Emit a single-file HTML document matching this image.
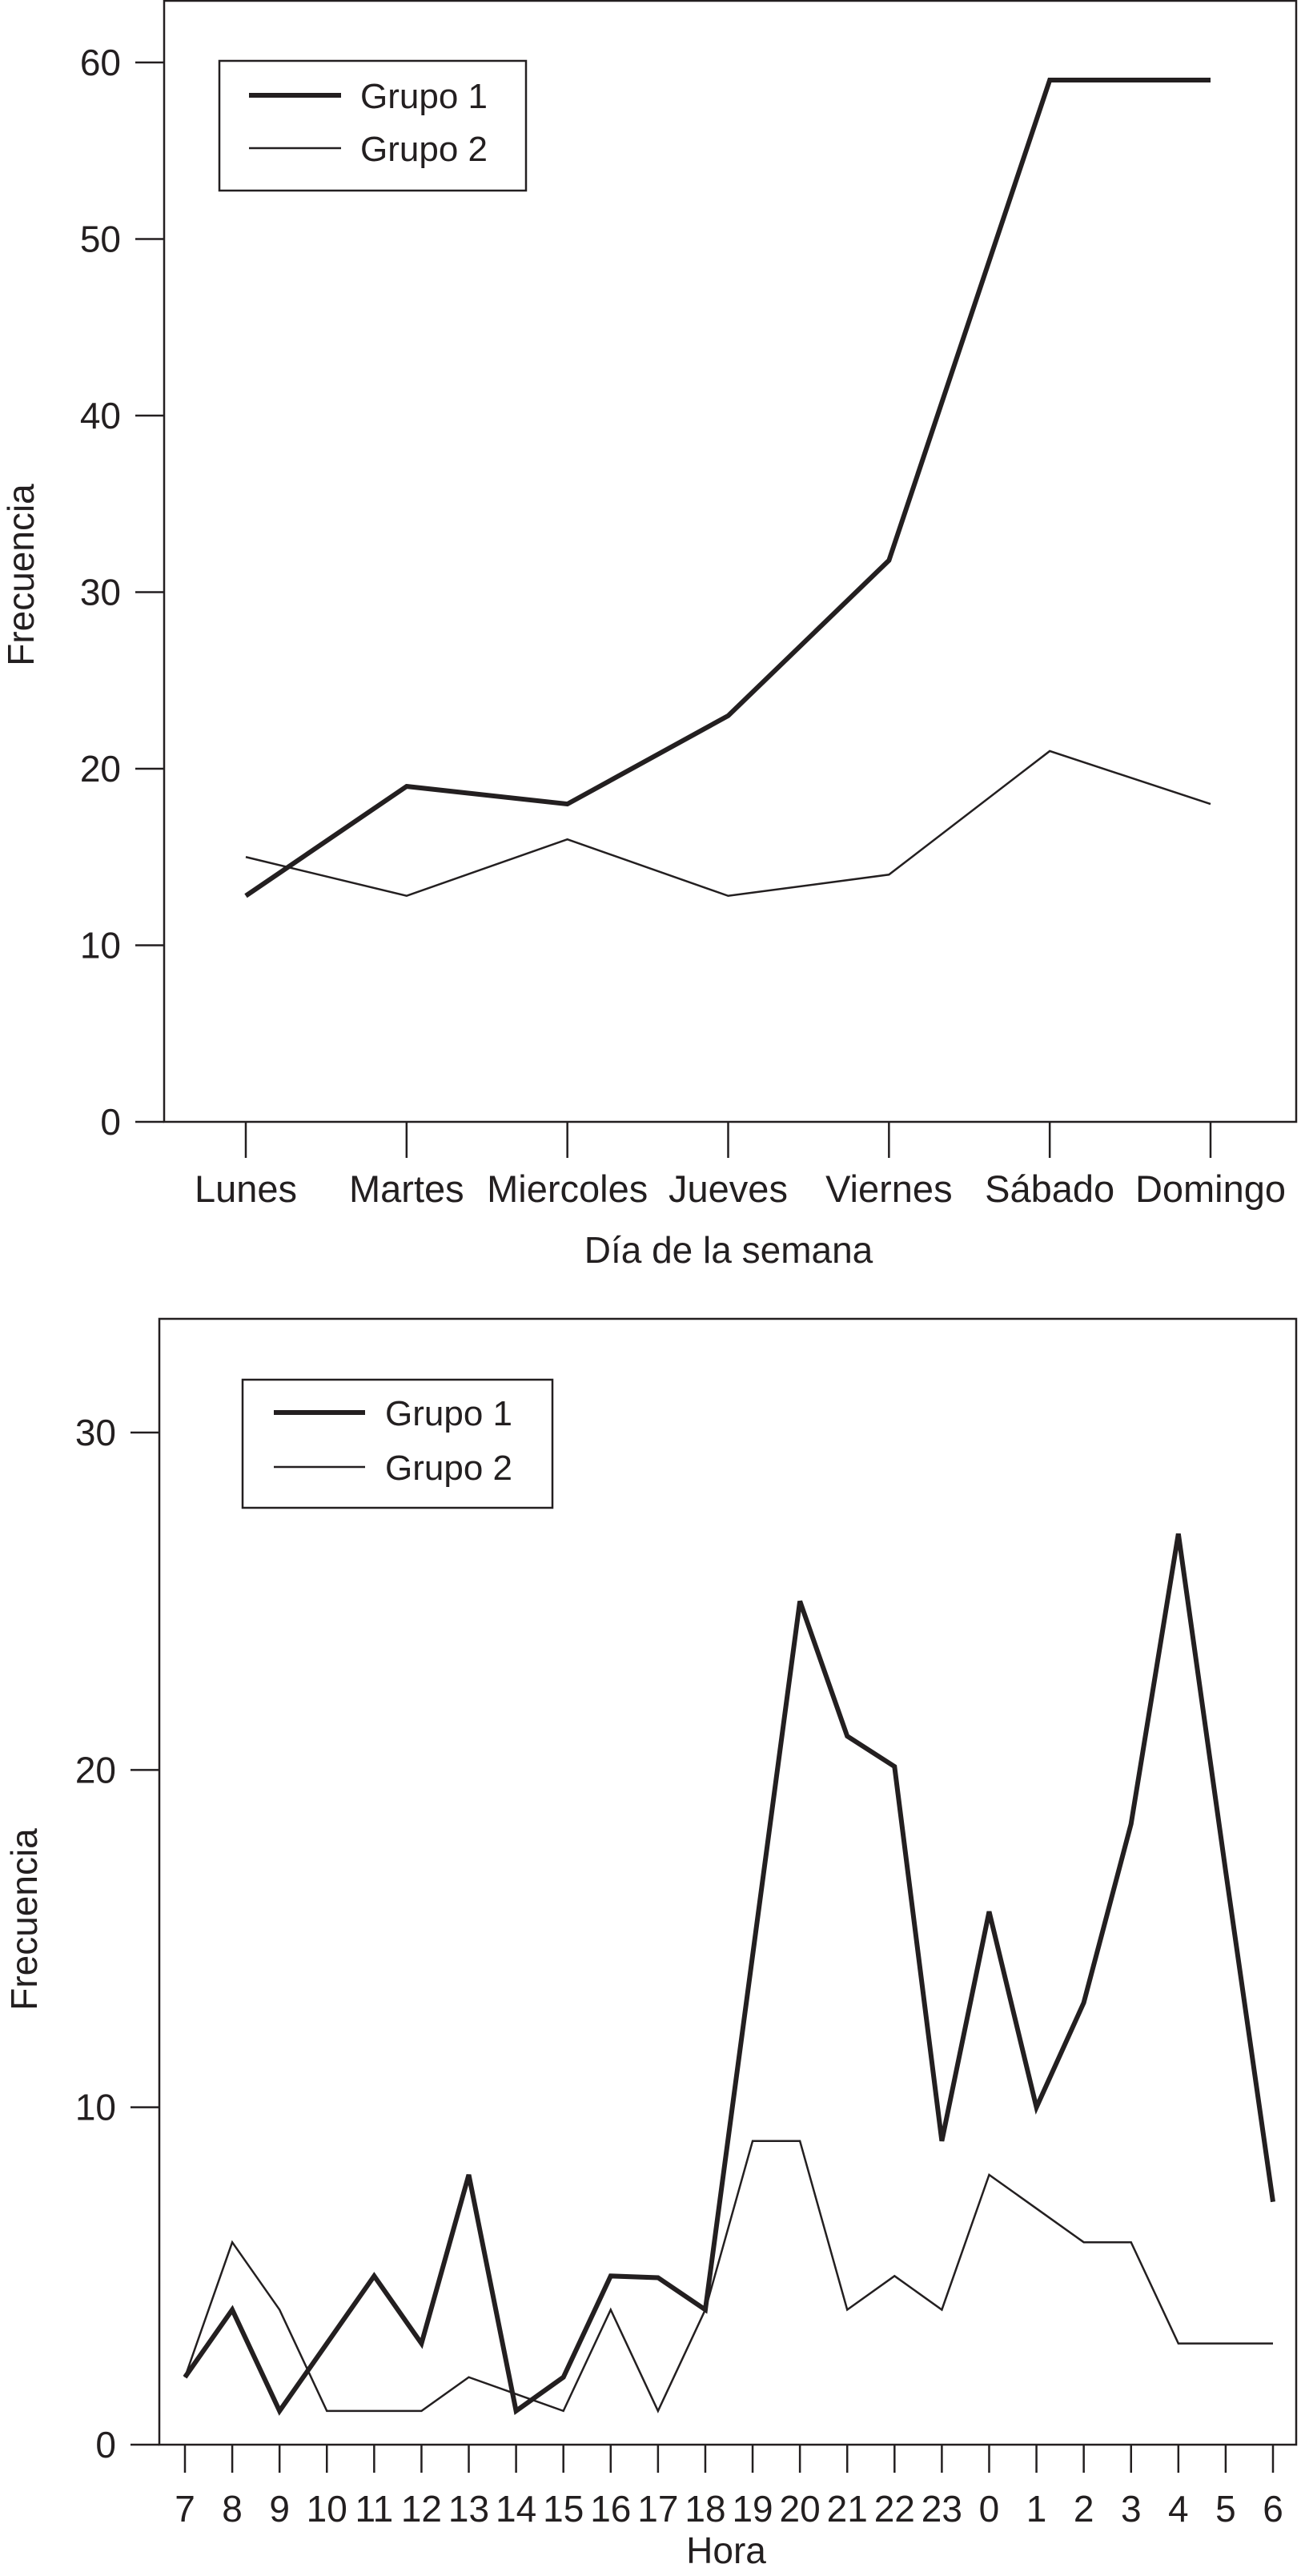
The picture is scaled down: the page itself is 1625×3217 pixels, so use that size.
<!DOCTYPE html>
<html><head><meta charset="utf-8"><style>
html,body{margin:0;padding:0;background:#fff;}
svg{display:block;font-family:"Liberation Sans",Arial,sans-serif;}
</style></head><body>
<svg id="chart" width="1625" height="3217" viewBox="0 0 1625 3217" xmlns="http://www.w3.org/2000/svg"></svg>
<script>
const dayCategories = ["Lunes","Martes","Miercoles","Jueves","Viernes","Sábado","Domingo"];
const dayGroup1 = [12.8,19,18,23,31.8,59,59];
const dayGroup2 = [15,12.8,16,12.8,14,21,18];
const dayYTicks = [0,10,20,30,40,50,60];
const hourCategories = ["7","8","9","10","11","12","13","14","15","16","17","18","19","20","21","22","23","0","1","2","3","4","5","6"];
const hourGroup1 = [2,4,1,3,5,3,8,1,2,5,4.95,4,14.5,25,21,20.1,9,15.8,10,13.1,18.4,27,17,7.2];
const hourGroup2 = [2,6,4,1,1,1,2,1.5,1,4,1,4,9,9,4,5,4,8,7,6,6,3,3,3];
const hourYTicks = [0,10,20,30];

const svg = document.getElementById('chart');
const NS = "http://www.w3.org/2000/svg";
function mk(tag, attrs, parent){
  const e = document.createElementNS(NS, tag);
  for (const k in attrs) e.setAttribute(k, attrs[k]);
  (parent||svg).appendChild(e);
  return e;
}
function txt(parent, x, y, s, size, anchor, extra){
  const t = mk('text', Object.assign({x:x, y:y, 'font-size':size, 'text-anchor':anchor||'middle', fill:'#231f20'}, extra||{}), parent);
  t.textContent = s;
  return t;
}

function drawChart(cfg){
  const g = mk('g', {});
  
  
  const xs = i => cfg.x0 + i*(cfg.x1-cfg.x0)/(cfg.cats.length-1);
  const ys = v => cfg.yb - v*(cfg.yb-cfg.ytop)/cfg.vmax;
  const fr = mk('rect', {x:cfg.L, y:cfg.T, width:cfg.R-cfg.L, height:cfg.yb-cfg.T, fill:'none', stroke:'#231f20', 'stroke-width':2.5}, g);
  
  
  cfg.yticks.forEach(v=>{
    const y = ys(v);
    const l = mk('line', {x1:cfg.L-36, x2:cfg.L, y1:y, y2:y, stroke:'#231f20', 'stroke-width':2.5}, g);
    
    
    const t = txt(g, cfg.L-54, y+16, String(v), 46, 'end');
    
    
  });
  cfg.cats.forEach((c,i)=>{
    const x = xs(i);
    const l = mk('line', {x1:x, x2:x, y1:cfg.yb, y2:cfg.yb+cfg.tickLen, stroke:'#231f20', 'stroke-width':2.5}, g);
    
    
    const t = txt(g, x, cfg.labelY, c, cfg.labelSize, 'middle');
    
    
  });
  const xt = txt(g, cfg.xTitleX, cfg.xTitleY, cfg.xTitle, 46, 'middle');
  
  
  const yt = txt(g, 0, 0, 'Frecuencia', 46, 'middle', {transform:`translate(${cfg.yTitleX},${cfg.yTitleY}) rotate(-90)`});
  
  
  [[cfg.s2,2.5,'series-grupo-2'],[cfg.s1,6,'series-grupo-1']].forEach(([s,w,n])=>{
    const p = mk('polyline', {points:s.map((v,i)=>xs(i)+','+ys(v)).join(' '), fill:'none', stroke:'#231f20', 'stroke-width':w, 'stroke-linejoin':'miter'}, g);
    
    
  });
  const lg = mk('g', {}, g);
  
  
  const b = cfg.leg;
  mk('rect', {x:b.x, y:b.y, width:b.w, height:b.h, fill:'#fff', stroke:'#231f20', 'stroke-width':2.5}, lg);
  const e1 = mk('line', {x1:b.lx1, x2:b.lx2, y1:b.y1, y2:b.y1, stroke:'#231f20', 'stroke-width':6}, lg);
  
  
  const e2 = mk('line', {x1:b.lx1, x2:b.lx2, y1:b.y2, y2:b.y2, stroke:'#231f20', 'stroke-width':2.5}, lg);
  
  
  const t1 = txt(lg, b.tx, b.y1+16, 'Grupo 1', 44, 'start');
  
  
  const t2 = txt(lg, b.tx, b.y2+16, 'Grupo 2', 44, 'start');
  
  
}

drawChart({name:'day-chart', L:205, R:1619, T:1, yb:1401, ytop:78, vmax:60,
  x0:307, x1:1512, cats:dayCategories, s1:dayGroup1, s2:dayGroup2, yticks:dayYTicks,
  tickLen:45, labelY:1501, labelSize:47, xTitle:'Día de la semana', xTitleX:910, xTitleY:1577,
  yTitleX:42, yTitleY:718,
  leg:{x:274, y:76, w:383, h:162, lx1:311, lx2:426, y1:119, y2:185, tx:450}});

drawChart({name:'hour-chart', L:199, R:1619, T:1647, yb:3053, ytop:1789, vmax:30,
  x0:231, x1:1590, cats:hourCategories, s1:hourGroup1, s2:hourGroup2, yticks:hourYTicks,
  tickLen:35, labelY:3149, labelSize:46, xTitle:'Hora', xTitleX:907, xTitleY:3201,
  yTitleX:46, yTitleY:2397,
  leg:{x:303, y:1723, w:387, h:160, lx1:342, lx2:456, y1:1764, y2:1832, tx:481}});
</script>
</body></html>
